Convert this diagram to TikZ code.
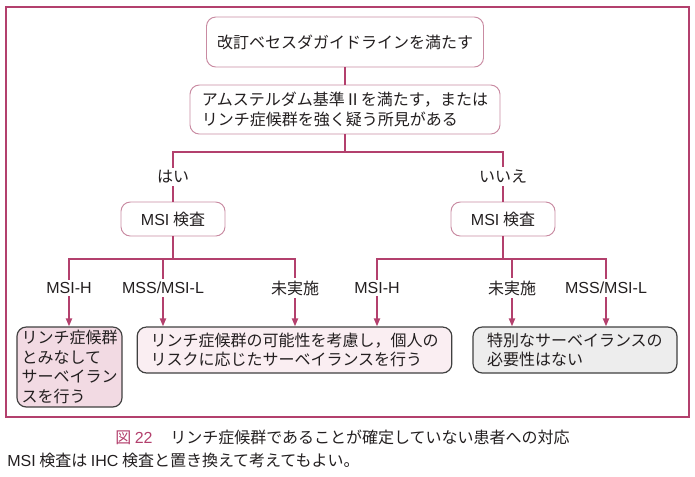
\documentclass[tikz,border=0pt]{standalone}
\usepackage{fontspec}
\setmainfont{Noto Sans CJK JP}
\newfontfamily\latinfont{Liberation Sans}
\newcommand\lat[1]{{\latinfont #1}}
\usetikzlibrary{arrows.meta}

\definecolor{rose}{HTML}{B3406D}
\definecolor{mauve}{HTML}{C98BA2}
\definecolor{pinkA}{HTML}{F2DAE3}
\definecolor{pinkB}{HTML}{FAEEF2}
\definecolor{greyC}{HTML}{EDEDED}
\definecolor{ink}{HTML}{231F20}

\begin{document}
\begin{tikzpicture}[x=0.75pt,y=-0.75pt,
  every node/.style={font=\fontsize{12}{14.6}\selectfont,text=ink},
  cond/.style={draw=mauve,fill=white,rounded corners=7pt,line width=0.7pt,align=left},
  result/.style={draw=black!75,rounded corners=7pt,line width=0.9pt,align=left,inner ysep=2pt},
  link/.style={draw=rose,line width=1.4pt},
  arr/.style={link,-{Triangle[length=6pt,width=4.5pt]}},
  lbl/.style={fill=white,inner sep=2pt}]
  \useasboundingbox (0,0) rectangle (695,476);
  \draw[rose,line width=1pt] (6,7) rectangle (689,417);

  \node[cond,align=center,minimum width=207.75pt,minimum height=37.5pt] (bethesda) at (345,42) {改訂ベセスダガイドラインを満たす};
  \node[cond,minimum width=232.5pt,minimum height=36.75pt] (amsterdam) at (345,109.5)
    {アムステルダム基準Ⅱを満たす，または\\リンチ症候群を強く疑う所見がある};
  \node[cond,align=center,minimum width=78pt,minimum height=25.5pt] (msiY) at (173,219) {\lat{MSI} 検査};
  \node[cond,align=center,minimum width=78pt,minimum height=25.5pt] (msiN) at (503,219) {\lat{MSI} 検査};

  \node[result,fill=pinkA,text width=72pt,inner xsep=3.4pt,minimum height=60pt] (lynch) at (69.5,367)
    {リンチ症候群\\とみなして\\サーベイラン\\スを行う};
  \node[result,fill=pinkB,text width=216pt,inner xsep=10pt,minimum height=34.5pt] (risk) at (294.5,350)
    {リンチ症候群の可能性を考慮し，個人の\\リスクに応じたサーベイランスを行う};
  \node[result,fill=greyC,text width=132pt,inner xsep=10.5pt,minimum height=34.5pt] (none) at (575,350)
    {特別なサーベイランスの\\必要性はない};

  % first split
  \coordinate (yesTop) at (173,152);
  \coordinate (noTop)  at (503,152);
  \draw[link] (bethesda) -- (amsterdam);
  \draw[link] (amsterdam) -- (amsterdam |- yesTop);
  \draw[link] (msiY) -- node[lbl] {はい} (yesTop) -- (noTop) -- node[lbl] {いいえ} (msiN);

  % results of the MSI test
  \coordinate (yH) at (69,259);
  \coordinate (yL) at (163,259);
  \coordinate (yU) at (295,259);
  \coordinate (nH) at (377,259);
  \coordinate (nU) at (512,259);
  \coordinate (nL) at (606,259);
  \draw[link,line cap=rect] (yH) -- (yU);
  \draw[link,line cap=rect] (nH) -- (nL);
  \draw[link] (msiY) -- (msiY |- yH);
  \draw[link] (msiN) -- (msiN |- nH);
  \draw[arr] (yH) -- node[lbl,pos=0.43] {\lat{MSI-H}} (yH |- lynch.north);
  \draw[arr] (yL) -- node[lbl,pos=0.43] {\lat{MSS/MSI-L}} (yL |- risk.north);
  \draw[arr] (yU) -- node[lbl,pos=0.43] {未実施} (yU |- risk.north);
  \draw[arr] (nH) -- node[lbl,pos=0.43] {\lat{MSI-H}} (nH |- risk.north);
  \draw[arr] (nU) -- node[lbl,pos=0.43] {未実施} (nU |- none.north);
  \draw[arr] (nL) -- node[lbl,pos=0.43] {\lat{MSS/MSI-L}} (nL |- none.north);

  \node[anchor=west,inner sep=0pt] (caption) at (115,437)
    {\textcolor{rose}{図 \lat{22}}\hspace{1.1em}リンチ症候群であることが確定していない患者への対応};
  \node[anchor=west,inner sep=0pt] (note) at (7,460) {\lat{MSI} 検査は \lat{IHC} 検査と置き換えて考えてもよい。};
\end{tikzpicture}
\end{document}
